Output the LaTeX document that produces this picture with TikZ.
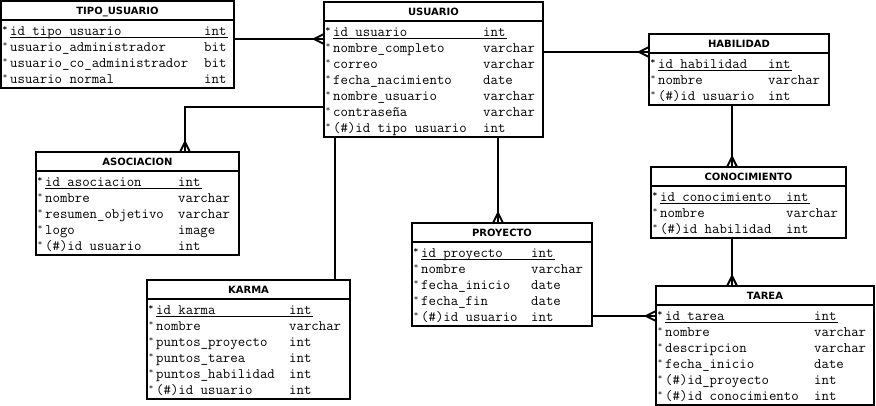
\documentclass[tikz,border=0pt]{standalone}
\usepackage{fontspec}
\newfontfamily\titfont{DejaVu Sans}
\usetikzlibrary{arrows.meta}

% pata de gallo (muchos)
\pgfdeclarearrow{
  name = crow,
  setup code = {
    \pgfarrowssettipend{0pt}
    \pgfarrowssetlineend{0pt}
    \pgfarrowssetbackend{-10pt}
    \pgfarrowshullpoint{0pt}{5pt}
    \pgfarrowshullpoint{0pt}{-5pt}
    \pgfarrowshullpoint{-10pt}{0pt}
  },
  drawing code = {
    \pgfpathmoveto{\pgfqpoint{0pt}{5pt}}
    \pgfpathlineto{\pgfqpoint{-10pt}{0pt}}
    \pgfpathlineto{\pgfqpoint{0pt}{-5pt}}
    \pgfusepathqstroke
  }
}

\tikzset{
  tabla/.style={draw, line width=2pt, anchor=north west, inner sep=0pt, outer sep=0pt},
  titulo/.style={font=\titfont\bfseries\fontsize{10}{12}\selectfont, anchor=base, inner sep=0pt},
  campo/.style={font=\ttfamily\fontsize{14.4}{16}\selectfont, anchor=base west, inner sep=0pt},
  marca/.style={font=\titfont\fontsize{8}{8}\selectfont, inner sep=0pt},
  rel/.style={line width=2pt}
}

\begin{document}
\begin{tikzpicture}[x=1pt,y=-1pt]
  \useasboundingbox (0,0) rectangle (876,406);
  % id, x, y, ancho, filas, titulo, col. tipo, campos
  \def\tabla#1#2#3#4#5#6#7#8{%
    \node[tabla, minimum width=#4, minimum height={23+16*#5}] (#1) at (#2,#3) {};
    \node[titulo] (#1-tit) at ([yshift=-14]#1.north) {#6};
    \draw[line width=2pt] ([yshift=-19]#1.north west) -- ([yshift=-19]#1.north east);
    \draw[line width=1pt] ([xshift=9,yshift=-36.5]#1.north west) -- ([xshift={#7+24},yshift=-36.5]#1.north west);
    \foreach \nom/\tip [count=\i] in {#8} {
      \pgfmathsetmacro\yy{-34.5-16*(\i-1)}
      \node[campo] (#1-\i) at ([xshift=9,yshift=\yy]#1.north west) {\nom};
      \node[campo] (#1-tipo-\i) at ([xshift=#7,yshift=\yy]#1.north west) {\tip};
      \node[marca] (#1-m-\i) at ([xshift=4,yshift=\yy+6]#1.north west) {\ifnum\i=1\bfseries\fi *};
    }
  }

  \tabla{tipo}{1}{1}{233}{4}{TIPO\_USUARIO}{203}{id\_tipo\_usuario/int, usuario\_administrador/bit, usuario\_co\_administrador/bit, usuario normal/int}
  \tabla{usuario}{324}{2}{219}{7}{USUARIO}{159}{id\_usuario/int, nombre\_completo/varchar, correo/varchar, fecha\_nacimiento/date, nombre\_usuario/varchar, contraseña/varchar, (\#)id tipo usuario/int}
  \tabla{habilidad}{649}{34}{180}{3}{HABILIDAD}{119}{id\_habilidad/int, nombre/varchar, (\#)id usuario/int}
  \tabla{asociacion}{36}{152}{203}{5}{ASOCIACION}{142}{id\_asociacion/int, nombre/varchar, resumen\_objetivo/varchar, logo/image, (\#)id usuario/int}
  \tabla{karma}{147}{280}{203}{6}{KARMA}{142}{id\_karma/int, nombre/varchar, puntos\_proyecto/int, puntos\_tarea/int, puntos\_habilidad/int, (\#)id usuario/int}
  \tabla{proyecto}{412}{223}{180}{5}{PROYECTO}{119}{id\_proyecto/int, nombre/varchar, fecha\_inicio/date, fecha\_fin/date, (\#)id usuario/int}
  \tabla{conocimiento}{651}{167}{195}{3}{CONOCIMIENTO}{135}{id\_conocimiento/int, nombre/varchar, (\#)id habilidad/int}
  \tabla{tarea}{656}{286}{218}{6}{TAREA}{158}{id\_tarea/int, nombre/varchar, descripcion/varchar, fecha\_inicio/date, (\#)id\_proyecto/int, (\#)id conocimiento/int}

  % relaciones
  \draw[rel,-crow] ([yshift=-38]tipo.north east) -- ([yshift=-37]usuario.north west);
  \draw[rel,-crow] ([yshift=-50]usuario.north east) -- ([yshift=-18]habilidad.north west);
  \draw[rel,-crow] ([yshift=-105]usuario.north west) -| ([xshift=149]asociacion.north west);
  \draw[rel] ([xshift=11]usuario.south west) -- ([xshift=188]karma.north west);
  \draw[rel,-crow] ([xshift=174]usuario.south west) -- ([xshift=86]proyecto.north west);
  \draw[rel,-crow] ([xshift=83]habilidad.south west) -- ([xshift=81]conocimiento.north west);
  \draw[rel,-crow] ([xshift=81]conocimiento.south west) -- ([xshift=76]tarea.north west);
  \draw[rel,-crow] ([yshift=-93]proyecto.north east) -- ([yshift=-30]tarea.north west);
\end{tikzpicture}
\end{document}
